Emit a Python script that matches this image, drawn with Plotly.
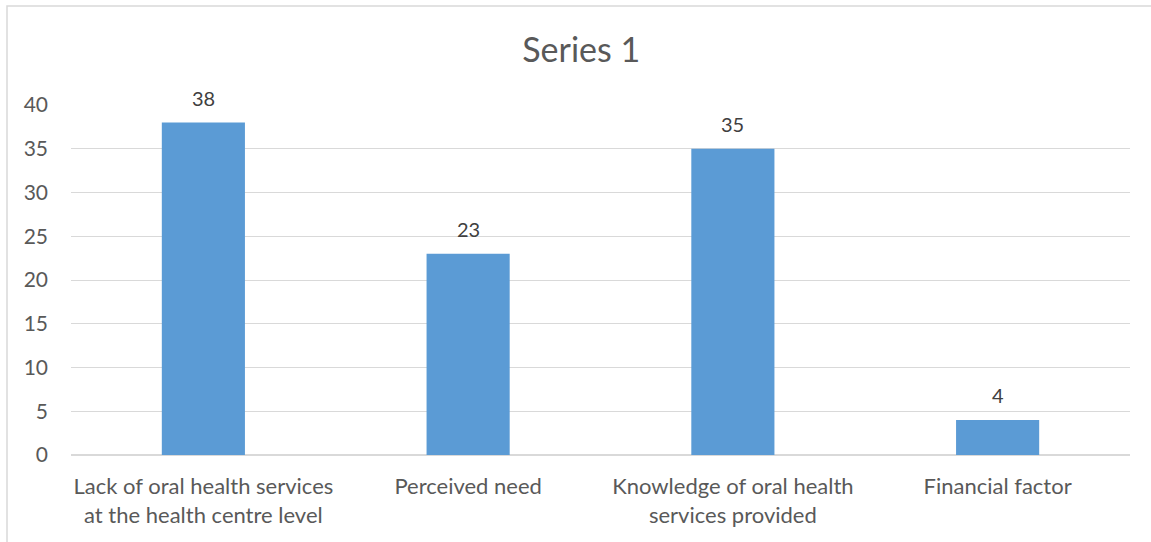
import plotly.graph_objects as go

categories = [
    "Lack of oral health services<br>at the health centre level",
    "Perceived need",
    "Knowledge of oral health<br>services provided",
    "Financial factor",
]
values = [38, 23, 35, 4]
y_ticks = [0, 5, 10, 15, 20, 25, 30, 35, 40]

W, H = 1151, 542
L, R, T, B = 71, 21, 105, 87
pw, ph = W - L - R, H - T - B

FONT = "Lato, 'Open Sans', sans-serif"
TEXT = "#595959"

fig = go.Figure(
    go.Bar(
        x=categories,
        y=values,
        marker=dict(color="#5B9BD5", line=dict(width=0)),
        width=0.314,
        hoverinfo="x+y",
    )
)

# value labels sitting above each bar
for c, v in zip(categories, values):
    fig.add_annotation(
        x=c,
        y=v,
        text=str(v),
        showarrow=False,
        yanchor="bottom",
        yshift=11,
        font=dict(family=FONT, size=20, color="#404040"),
    )

fig.update_layout(
    width=W,
    height=H,
    margin=dict(l=L, r=R, t=T, b=B),
    paper_bgcolor="white",
    plot_bgcolor="white",
    showlegend=False,
    title=dict(
        text="Series 1",
        x=0.505,
        xanchor="center",
        y=1 - 50 / H,
        yanchor="middle",
        font=dict(family=FONT, size=34, color=TEXT),
    ),
    font=dict(family=FONT, color=TEXT),
    xaxis=dict(
        showgrid=False,
        showline=False,
        zeroline=False,
        ticks="",
        tickfont=dict(family=FONT, size=22, color=TEXT),
        ticklabelstandoff=16,
    ),
    yaxis=dict(
        range=[0, 40],
        tickvals=y_ticks,
        showgrid=True,
        gridcolor="#d9d9d9",
        gridwidth=1,
        zeroline=True,
        zerolinecolor="#d9d9d9",
        showline=False,
        ticks="",
        tickfont=dict(family=FONT, size=21, color=TEXT),
        ticklabelstandoff=22,
    ),
    shapes=[
        dict(
            type="rect",
            xref="paper",
            yref="paper",
            x0=(7 - L) / pw,
            x1=(W + 10 - L) / pw,
            y0=-(H + 10 - (H - B)) / ph,
            y1=1 + (T - 6) / ph,
            line=dict(color="#d9d9d9", width=1.5),
            fillcolor="rgba(0,0,0,0)",
            layer="below",
        )
    ],
)

fig.write_html("out.html")
